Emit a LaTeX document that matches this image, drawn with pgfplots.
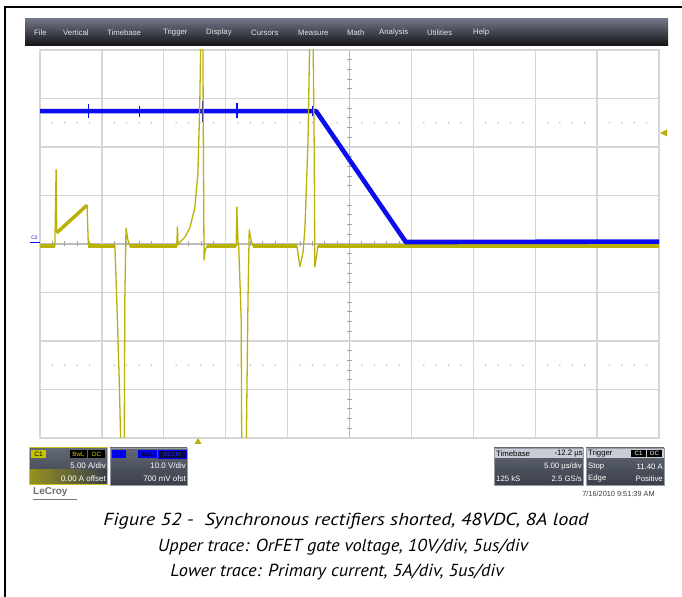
\documentclass[border=0pt]{standalone}
\usepackage{fontspec}
\setmainfont{Liberation Sans}
\newfontfamily\capfont{PT Sans}
\usepackage{graphicx}
\usepackage{pgfplots}
\pgfplotsset{compat=1.18}
\definecolor{ytr}{RGB}{186,178,8}
\definecolor{btr}{RGB}{12,12,238}
\definecolor{gridc}{RGB}{214,214,214}
\definecolor{boxtop}{RGB}{98,104,116}
\definecolor{boxbot}{RGB}{58,63,74}
\definecolor{hdr}{RGB}{200,204,212}
\definecolor{mtop}{RGB}{112,118,134}
\definecolor{mmid}{RGB}{52,56,64}
\definecolor{mbot}{RGB}{18,18,20}
\definecolor{mtxt}{RGB}{225,228,232}
\definecolor{cline}{RGB}{188,188,188}
\definecolor{ctick}{RGB}{165,165,165}
\definecolor{cdot}{RGB}{175,175,175}
\definecolor{yshade}{RGB}{150,146,30}
\definecolor{yborder}{RGB}{200,194,40}
\definecolor{ytag}{RGB}{200,195,0}
\definecolor{ytagtxt}{RGB}{210,200,0}
\definecolor{gborder}{RGB}{150,155,165}
\definecolor{bfull}{RGB}{0,0,255}
\definecolor{bdark}{RGB}{0,0,140}
\definecolor{bmid}{RGB}{0,0,230}
\definecolor{bnavy}{RGB}{10,10,60}
\definecolor{btxt}{RGB}{40,40,255}
\definecolor{datec}{RGB}{60,60,60}
\definecolor{logoc}{RGB}{110,110,110}
\definecolor{logou}{RGB}{120,120,120}
\begin{document}
\begin{tikzpicture}[x=1bp,y=1bp]
\useasboundingbox (0,0) rectangle (682,597);
\fill[white] (0,0) rectangle (682,597);
\begin{scope}[yshift=597bp,y=-1bp]
 % frame
 \draw[line width=2bp] (5,598) -- (5,7) -- (683,7);
 % menu bar
 \shade[top color=mtop, middle color=mmid, bottom color=mbot] (25,19) rectangle (668,46);
 \begin{scope}[every node/.style={anchor=west, text=mtxt, font=\fontsize{7.8}{9}\selectfont, inner sep=0pt}]
  \node at (34,33) {File};
  \node at (63,33) {Vertical};
  \node at (107,33) {Timebase};
  \node at (163,33) {Trigger};
  \node at (206,33) {Display};
  \node at (251,33) {Cursors};
  \node at (298,33) {Measure};
  \node at (347,33) {Math};
  \node at (379,33) {Analysis};
  \node at (427,33) {Utilities};
  \node at (473,33) {Help};
 \end{scope}
 % center lines and ticks
 \draw[color=cline, line width=1.2bp] (349.5,50) -- (349.5,438);
 \draw[color=cline, line width=1.2bp] (40,244) -- (659,244);
 \foreach \k in {1,...,39} \draw[color=ctick, line width=0.8bp] (347,{50+\k*9.7}) -- (352,{50+\k*9.7});
 \foreach \k in {1,...,49} \draw[color=ctick, line width=0.8bp] ({40+\k*12.38},241.5) -- ({40+\k*12.38},246.5);
 \foreach \k in {1,...,49} {
   \fill[color=cdot] ({40+\k*12.38},122.75) circle (0.75);
   \fill[color=cdot] ({40+\k*12.38},365.25) circle (0.75);
 }
\end{scope}

\begin{axis}[at={(40bp,159bp)}, anchor=south west, scale only axis,
  width=619bp, height=388bp,
  xmin=0, xmax=10, ymin=-4, ymax=4,
  xtick={1,2,3,4,6,7,8,9}, ytick={-3,-2,-1,1,2,3},
  xticklabels={}, yticklabels={}, major tick length=0pt,
  grid=major, major grid style={draw=gridc, line width=1.3bp},
  axis line style={draw=gridc, line width=1.3bp},
  clip=true]
% yellow baseline noise band
\addplot[ytr, line width=4bp, unbounded coords=jump, forget plot] coordinates {
 (0,-0.04)(0.24,-0.04)(0.25,nan)
 (0.78,-0.04)(1.21,-0.04)(1.3,nan)
 (1.45,-0.04)(2.21,-0.04)(2.3,nan)
 (2.70,-0.04)(3.17,-0.04)(3.2,nan)
 (3.44,-0.04)(4.15,-0.04)(4.3,nan)
 (4.49,-0.04)(10,-0.04)};
\addplot[ytr, line width=3.5bp, forget plot] coordinates {(0.27,0.23)(0.76,0.80)};
% blue trace: OrFET gate voltage
\addplot[btr, line width=4.6bp, line join=round, forget plot] coordinates {
 (0,2.74)(4.46,2.74)(5.91,0.04)(10,0.05)};
% blue noise spikes
\addplot[btr, line width=1.6bp, unbounded coords=jump, forget plot] coordinates {
 (0.785,2.60)(0.785,2.88)(0.79,nan)
 (1.61,2.62)(1.61,2.84)(1.62,nan)
 (2.635,2.52)(2.635,2.95)(2.64,nan)
 (3.18,2.60)(3.18,2.90)(3.19,nan)
 (4.41,2.64)(4.41,2.84)};
% yellow trace: primary current
\addplot[ytr, line width=1.3bp, line join=round, forget plot] coordinates {
 (0,-0.04)(0.24,-0.04)(0.26,1.53)(0.27,0.23)(0.76,0.80)(0.78,0.00)
 (1.21,-0.04)(1.24,-1.15)(1.28,-2.80)(1.31,-4.45)(1.36,-4.45)(1.37,-1.15)
 (1.39,0.33)(1.42,0.08)(1.45,-0.04)
 (2.21,-0.04)(2.22,0.35)(2.23,-0.02)(2.26,0.04)(2.34,0.14)(2.42,0.33)(2.50,0.74)
 (2.55,1.44)(2.58,2.80)(2.60,4.45)(2.63,4.45)(2.64,1.94)(2.65,-0.33)(2.67,-0.12)(2.70,-0.04)
 (3.17,-0.04)(3.18,0.76)(3.20,-0.02)(3.21,-0.04)(3.25,-1.53)(3.26,-4.45)(3.33,-4.45)
 (3.36,-1.15)(3.38,0.29)(3.41,0.08)(3.44,-0.04)
 (4.15,-0.04)(4.20,-0.47)(4.25,-0.16)(4.28,0.33)(4.33,2.14)(4.36,4.45)(4.41,4.45)
 (4.43,1.94)(4.44,-0.47)(4.47,-0.23)(4.49,-0.04)(4.68,-0.04)};
\end{axis}

\begin{scope}[yshift=597bp,y=-1bp]
 % markers
 \fill[ytr] (660,133) -- (667,129.5) -- (667,136.5) -- cycle;
 \fill[ytr] (198,438) -- (194.5,444) -- (201.5,444) -- cycle;
 \draw[btr, line width=1bp] (30,243) -- (40,243);
 \node[text=btr, font=\fontsize{5}{5}\selectfont, inner sep=0pt] at (34.5,238) {C2};
 % C1 box
 \shade[top color=boxtop, bottom color=boxbot] (29,448) rectangle (107,485);
 \shade[left color=yshade, right color=boxbot] (29,470) rectangle (107,485);
 \draw[color=yborder, line width=1bp] (29,448) rectangle (107,485);
 \fill[color=ytag] (31,450) rectangle (46,458);
 \node[font=\fontsize{6.5}{7}\selectfont, text=black, inner sep=0pt] at (38.5,454) {C1};
 \fill[black] (70,450) rectangle (87,458);
 \fill[black] (88,450) rectangle (105,458);
 \node[font=\fontsize{6.2}{7}\selectfont, text=ytagtxt, inner sep=0pt] at (78.5,454) {BwL};
 \node[font=\fontsize{6.2}{7}\selectfont, text=ytagtxt, inner sep=0pt] at (96.5,454) {DC};
 \node[anchor=east, font=\fontsize{8}{9}\selectfont, text=white, inner sep=0pt] at (106,466) {5.00 A/div};
 \node[anchor=east, font=\fontsize{8}{9}\selectfont, text=white, inner sep=0pt] at (106,479) {0.00 A offset};
 % C2 box
 \shade[top color=boxtop, bottom color=boxbot] (110,448) rectangle (187,485);
 \draw[color=gborder, line width=0.8bp] (110,448) rectangle (187,485);
 \fill[color=bfull] (112,450) rectangle (126,458);
 \node[font=\fontsize{6.5}{7}\selectfont, text=bdark, inner sep=0pt] at (119,454) {C2};
 \fill[color=bmid] (138,450) rectangle (157,458);
 \node[font=\fontsize{6.2}{7}\selectfont, text=black, inner sep=0pt] at (147.5,454) {BwL};
 \filldraw[fill=bnavy, draw=bfull, line width=0.6bp] (158,450) rectangle (186,458);
 \node[font=\fontsize{6.2}{7}\selectfont, text=btxt, inner sep=0pt] at (172,454) {DC1M};
 \node[anchor=east, font=\fontsize{8}{9}\selectfont, text=white, inner sep=0pt] at (186,466) {10.0 V/div};
 \node[anchor=east, font=\fontsize{8}{9}\selectfont, text=white, inner sep=0pt] at (186,479) {700 mV ofst};
 % Timebase box
 \shade[top color=boxtop, bottom color=boxbot] (494,448) rectangle (583,485);
 \fill[hdr] (494,448) rectangle (583,458);
 \draw[color=gborder, line width=0.8bp] (494,448) rectangle (583,485);
 \node[anchor=west, font=\fontsize{7.8}{9}\selectfont, text=black, inner sep=0pt] at (496,453.5) {Timebase};
 \node[anchor=east, font=\fontsize{7.8}{9}\selectfont, text=black, inner sep=0pt] at (583,453.5) {-12.2 µs};
 \node[anchor=east, font=\fontsize{7.8}{9}\selectfont, text=white, inner sep=0pt] at (582,467) {5.00 µs/div};
 \node[anchor=west, font=\fontsize{7.8}{9}\selectfont, text=white, inner sep=0pt] at (496,479) {125 kS};
 \node[anchor=east, font=\fontsize{7.8}{9}\selectfont, text=white, inner sep=0pt] at (582,479) {2.5 GS/s};
 % Trigger box
 \shade[top color=boxtop, bottom color=boxbot] (586,448) rectangle (664,485);
 \fill[hdr] (586,448) rectangle (664,458);
 \draw[color=gborder, line width=0.8bp] (586,448) rectangle (664,485);
 \node[anchor=west, font=\fontsize{7.8}{9}\selectfont, text=black, inner sep=0pt] at (588,453.5) {Trigger};
 \fill[black] (631,450) rectangle (646,457);
 \fill[black] (647,450) rectangle (662,457);
 \node[font=\fontsize{6.2}{7}\selectfont, text=white, inner sep=0pt] at (638.5,453.5) {C1};
 \node[font=\fontsize{6.2}{7}\selectfont, text=white, inner sep=0pt] at (654.5,453.5) {DC};
 \node[anchor=west, font=\fontsize{7.8}{9}\selectfont, text=white, inner sep=0pt] at (588,467) {Stop};
 \node[anchor=east, font=\fontsize{7.8}{9}\selectfont, text=white, inner sep=0pt] at (663,467) {11.40 A};
 \node[anchor=west, font=\fontsize{7.8}{9}\selectfont, text=white, inner sep=0pt] at (588,479) {Edge};
 \node[anchor=east, font=\fontsize{7.8}{9}\selectfont, text=white, inner sep=0pt] at (663,479) {Positive};
 % date and logo
 \node[anchor=east, font=\fontsize{7.4}{9}\selectfont, text=datec, inner sep=0pt] at (655,493.5) {7/16/2010 9:51:39 AM};
 \node[anchor=west, font=\bfseries\fontsize{10}{11}\selectfont, text=logoc, inner sep=0pt] at (33,492) {LeCroy};
 \draw[color=logou, line width=1bp] (33,499.5) -- (77,499.5);
 % caption
 \begin{scope}[every node/.style={font=\capfont\itshape\fontsize{17.5}{20}\selectfont, inner sep=0pt}]
  \node at (346,521) {\resizebox{485bp}{\height}{Figure 52 -\ \ Synchronous rectifiers shorted, 48VDC, 8A load}};
  \node at (343,547) {\resizebox{370bp}{\height}{Upper trace: OrFET gate voltage, 10V/div, 5us/div}};
  \node at (337,572) {\resizebox{333bp}{\height}{Lower trace: Primary current, 5A/div, 5us/div}};
 \end{scope}
\end{scope}
\end{tikzpicture}
\end{document}
